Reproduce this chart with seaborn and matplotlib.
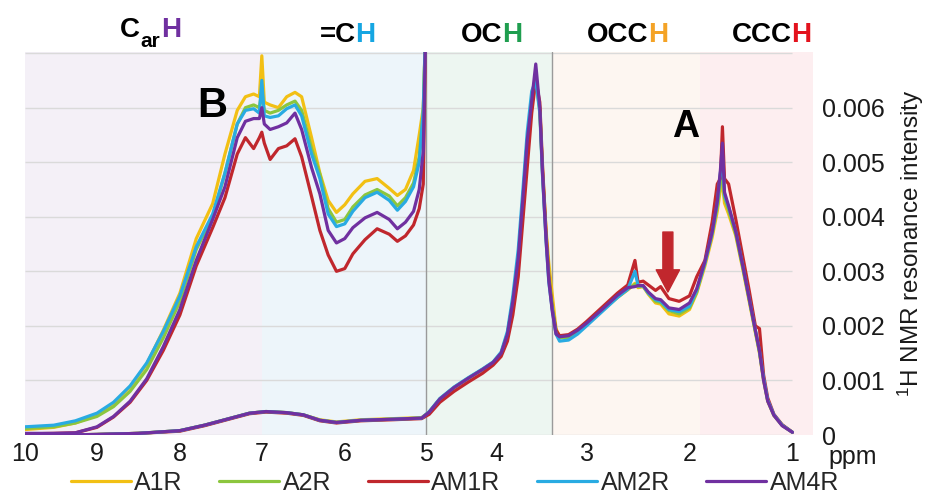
import numpy as np
import pandas as pd
import matplotlib
matplotlib.use("Agg")
import matplotlib.pyplot as plt
import seaborn as sns

# ---------------- data (intensity values in units of 1e-3) ----------------
samples = ["A1R", "A2R", "AM1R", "AM2R", "AM4R"]
colors = ["#f2c014", "#8cc63e", "#c0272d", "#29abe2", "#7030a0"]

# vertically expanded trace of the 10-5 ppm region
ppm_expanded = [10.0, 9.6, 9.3, 9.0, 8.8, 8.6, 8.4, 8.2, 8.0, 7.8, 7.6, 7.45, 7.3, 7.2,
                7.1, 7.03, 7.0, 6.97, 6.9, 6.8, 6.7, 6.6, 6.52, 6.4, 6.3, 6.2, 6.1, 6.0,
                5.9, 5.75, 5.6, 5.45, 5.35, 5.25, 5.15, 5.08, 5.03, 5.0, 4.97]
a1r_expanded = [0.10, 0.14, 0.22, 0.37, 0.58, 0.88, 1.30, 1.92, 2.60, 3.60, 4.24, 5.15, 5.95, 6.20,
                6.25, 6.20, 6.95, 6.10, 6.05, 6.00, 6.20, 6.28, 6.20, 5.45, 4.80, 4.30, 4.08, 4.22,
                4.42, 4.65, 4.70, 4.52, 4.39, 4.50, 4.85, 5.50, 6.00, 7.50, 8.50]
a2r_expanded = [0.12, 0.15, 0.22, 0.34, 0.52, 0.80, 1.20, 1.78, 2.45, 3.40, 4.00, 4.80, 5.70, 6.00,
                6.05, 6.00, 6.30, 5.95, 5.90, 5.95, 6.05, 6.12, 5.95, 5.25, 4.78, 4.15, 3.90, 3.95,
                4.18, 4.40, 4.50, 4.38, 4.20, 4.35, 4.62, 5.10, 5.95, 7.50, 8.50]
am1r_expanded = [0.02, 0.03, 0.04, 0.14, 0.33, 0.60, 1.00, 1.55, 2.20, 3.10, 3.80, 4.35, 5.15, 5.45,
                 5.25, 5.45, 5.55, 5.35, 5.05, 5.25, 5.30, 5.43, 5.10, 4.37, 3.75, 3.30, 3.00, 3.05,
                 3.32, 3.58, 3.78, 3.68, 3.55, 3.65, 3.85, 4.15, 4.60, 7.50, 8.50]
am2r_expanded = [0.15, 0.18, 0.26, 0.40, 0.60, 0.90, 1.32, 1.90, 2.55, 3.45, 4.05, 4.80, 5.70, 5.95,
                 5.98, 5.90, 6.50, 5.85, 5.82, 5.85, 5.98, 6.05, 5.85, 5.15, 4.70, 4.05, 3.82, 3.87,
                 4.10, 4.35, 4.45, 4.30, 4.12, 4.28, 4.55, 5.00, 5.95, 7.50, 8.50]
am4r_expanded = [0.03, 0.03, 0.04, 0.15, 0.34, 0.62, 1.03, 1.62, 2.30, 3.20, 3.95, 4.55, 5.45, 5.75,
                 5.80, 5.80, 6.00, 5.70, 5.60, 5.65, 5.72, 5.90, 5.60, 4.90, 4.42, 3.75, 3.52, 3.60,
                 3.80, 3.98, 4.08, 3.95, 3.78, 3.90, 4.10, 4.50, 5.20, 7.50, 8.50]

# full spectrum at normal scale
ppm_main = [10.0, 9.5, 9.0, 8.5, 8.0, 7.7, 7.4, 7.15, 6.95, 6.7, 6.5, 6.3, 6.1, 5.8, 5.4, 5.05,
            4.95, 4.8, 4.6, 4.4, 4.2, 4.05, 3.95, 3.88, 3.82, 3.76, 3.71, 3.66, 3.61, 3.565,
            3.52, 3.49, 3.45, 3.42, 3.38, 3.34, 3.3, 3.2, 3.1, 3.0, 2.85, 2.7, 2.6, 2.53, 2.5,
            2.45, 2.4, 2.33, 2.28, 2.2, 2.1, 2.0, 1.93, 1.85, 1.78, 1.73, 1.7, 1.68, 1.66, 1.62,
            1.55, 1.48, 1.42, 1.36, 1.32, 1.28, 1.24, 1.18, 1.1, 1.0]
a1r_main = [0.00, 0.00, 0.01, 0.03, 0.08, 0.18, 0.30, 0.40, 0.43, 0.41, 0.37, 0.28, 0.24, 0.28, 0.30, 0.32,
            0.42, 0.66, 0.87, 1.04, 1.20, 1.33, 1.50, 1.85, 2.45, 3.20, 4.25, 5.35, 6.05, 6.50,
            5.95, 4.85, 3.75, 3.15, 2.55, 1.95, 1.80, 1.81, 1.90, 2.03, 2.28, 2.52, 2.66, 2.78, 2.70,
            2.72, 2.58, 2.42, 2.40, 2.22, 2.18, 2.30, 2.60, 3.10, 3.62, 4.10, 4.50, 4.65, 4.25, 4.05,
            3.65, 3.02, 2.45, 1.88, 1.50, 1.00, 0.62, 0.36, 0.18, 0.05]
a2r_main = [0.00, 0.00, 0.01, 0.03, 0.08, 0.18, 0.30, 0.40, 0.43, 0.41, 0.37, 0.27, 0.23, 0.27, 0.29, 0.31,
            0.42, 0.66, 0.87, 1.04, 1.20, 1.33, 1.50, 1.85, 2.45, 3.22, 4.28, 5.38, 6.10, 6.60,
            5.98, 4.82, 3.62, 2.95, 2.35, 1.90, 1.78, 1.79, 1.89, 2.03, 2.28, 2.53, 2.67, 2.76, 2.72,
            2.73, 2.60, 2.45, 2.43, 2.28, 2.22, 2.33, 2.62, 3.15, 3.68, 4.18, 4.62, 4.85, 4.35, 4.12,
            3.68, 3.05, 2.48, 1.90, 1.52, 1.02, 0.63, 0.36, 0.18, 0.05]
am1r_main = [0.00, 0.00, 0.01, 0.03, 0.07, 0.17, 0.29, 0.39, 0.42, 0.40, 0.36, 0.26, 0.22, 0.26, 0.28, 0.30,
             0.38, 0.60, 0.80, 0.97, 1.13, 1.28, 1.44, 1.72, 2.20, 2.90, 3.90, 4.90, 5.90, 6.50,
             6.10, 4.95, 3.70, 2.90, 2.30, 1.92, 1.82, 1.84, 1.94, 2.08, 2.34, 2.60, 2.75, 3.20, 2.80,
             2.82, 2.75, 2.65, 2.72, 2.50, 2.45, 2.55, 2.90, 3.20, 3.90, 4.60, 4.70, 5.65, 4.70, 4.60,
             3.95, 3.25, 2.65, 2.00, 1.95, 1.10, 0.68, 0.38, 0.19, 0.05]
am2r_main = [0.00, 0.00, 0.01, 0.03, 0.08, 0.18, 0.30, 0.40, 0.43, 0.41, 0.37, 0.27, 0.23, 0.27, 0.29, 0.31,
             0.43, 0.67, 0.88, 1.05, 1.21, 1.34, 1.52, 1.90, 2.55, 3.40, 4.45, 5.55, 6.30, 6.50,
             5.90, 4.75, 3.55, 2.80, 2.28, 1.85, 1.72, 1.74, 1.85, 2.00, 2.26, 2.52, 2.67, 3.00, 2.74,
             2.73, 2.60, 2.48, 2.45, 2.30, 2.26, 2.36, 2.65, 3.15, 3.70, 4.25, 4.80, 5.10, 4.40, 4.18,
             3.72, 3.08, 2.50, 1.92, 1.54, 1.04, 0.64, 0.37, 0.18, 0.05]
am4r_main = [0.00, 0.00, 0.01, 0.03, 0.08, 0.18, 0.30, 0.40, 0.43, 0.41, 0.37, 0.27, 0.23, 0.27, 0.29, 0.31,
             0.42, 0.66, 0.87, 1.04, 1.20, 1.33, 1.50, 1.85, 2.45, 3.25, 4.30, 5.40, 6.13, 6.80,
             6.00, 4.80, 3.56, 2.83, 2.25, 1.85, 1.80, 1.82, 1.92, 2.05, 2.30, 2.56, 2.70, 2.72, 2.74,
             2.74, 2.62, 2.50, 2.48, 2.33, 2.30, 2.42, 2.68, 3.18, 3.72, 4.28, 4.85, 5.35, 4.45, 4.20,
             3.72, 3.08, 2.50, 1.92, 1.54, 1.00, 0.62, 0.36, 0.17, 0.05]

expanded_series = [a1r_expanded, a2r_expanded, am1r_expanded, am2r_expanded, am4r_expanded]
main_series = [a1r_main, a2r_main, am1r_main, am2r_main, am4r_main]

# regions and labels
region_bounds = [10.0, 7.0, 5.0, 3.38, 1.9, 0.8]
region_colors = ["#f4f0f7", "#edf5fa", "#edf6f1", "#fdf6f1", "#fdeef0"]
divider_ppm = [5.0, 3.38]
heading_prefixes = ["=C", "OC", "OCC", "CCC"]
heading_h_colors = ["#16a6e2", "#1f9e4f", "#f4a326", "#e3121d"]
x_tick_values = [10, 9, 8, 7, 6, 5, 4, 3, 2, 1]
x_tick_labels = ["10", "9", "8", "7", "6", "5", "4", "3", "2", "1"]
y_tick_values = [0, 0.001, 0.002, 0.003, 0.004, 0.005, 0.006]
y_tick_labels = ["0", "0.001", "0.002", "0.003", "0.004", "0.005", "0.006"]
grid_levels = [0.0, 0.001, 0.002, 0.003, 0.004, 0.005, 0.006, 0.007]

# ---------------- frame ----------------
sns.set_theme(style="white")
plt.rcParams["font.family"] = ["Liberation Sans", "DejaVu Sans"]
plt.rcParams["mathtext.fontset"] = "custom"
plt.rcParams["mathtext.rm"] = "Liberation Sans"
plt.rcParams["mathtext.it"] = "Liberation Sans:italic"
plt.rcParams["mathtext.bf"] = "Liberation Sans:bold"

W, H = 928, 498
fig = plt.figure(figsize=(W / 100, H / 100), dpi=100)
ax = fig.add_axes([25 / W, 1 - 435 / H, 788 / W, 383 / H])

# piecewise-linear ppm axis (the original axis is not uniform)
knot_ppm = np.array([0, 1, 2, 3, 4, 5, 6, 7, 8, 9, 10, 11], dtype=float)
knot_pos = np.array([-896, -793, -690, -587, -497, -426, -345, -262, -180, -97, -25, 47], dtype=float)


def fwd(p):
    return np.interp(p, knot_ppm, knot_pos)


def inv(u):
    return np.interp(u, knot_pos, knot_ppm)


ax.set_xscale("function", functions=(fwd, inv))

for lo, hi, c in zip(region_bounds[:-1], region_bounds[1:], region_colors):
    ax.axvspan(hi, lo, color=c, lw=0, zorder=0)
ax.hlines(grid_levels, 10.0, 1.0, color="#dadada", lw=1.0, zorder=1)
for d in divider_ppm:
    ax.axvline(d, color="#9a9a9a", lw=1.0, zorder=1)

# ---------------- data lines ----------------
frames = []
for name, ev, mv in zip(samples, expanded_series, main_series):
    frames.append(pd.DataFrame({"ppm": ppm_expanded, "intensity": np.array(ev) * 1e-3,
                                "sample": name, "segment": "expanded"}))
    frames.append(pd.DataFrame({"ppm": ppm_main, "intensity": np.array(mv) * 1e-3,
                                "sample": name, "segment": "main"}))
df = pd.concat(frames, ignore_index=True)

sns.lineplot(data=df, x="ppm", y="intensity", hue="sample", hue_order=samples,
             units="segment", estimator=None, sort=False,
             palette=dict(zip(samples, colors)), linewidth=2.3, ax=ax, zorder=3)

ax.set_xlim(10.0, 0.8)
ax.set_ylim(0, 0.00702)
for s in ax.spines.values():
    s.set_visible(False)

ax.set_xticks(x_tick_values)
ax.set_xticklabels(x_tick_labels)
ax.xaxis.set_minor_locator(matplotlib.ticker.NullLocator())
ax.tick_params(axis="x", length=0, pad=5, labelsize=18, colors="#1a1a1a")
ax.yaxis.tick_right()
ax.set_yticks(y_tick_values)
ax.set_yticklabels(y_tick_labels)
ax.tick_params(axis="y", length=0, pad=6.5, labelsize=18, colors="#1a1a1a")
ax.set_xlabel("")
ax.yaxis.set_label_position("right")
ax.set_ylabel("$^{1}$H NMR resonance intensity", fontsize=17.5, labelpad=8, color="#1a1a1a")
ax.grid(False)


def fx(x):
    return x / W


def fy(y):
    return 1 - y / H


fig.text(fx(853), fy(464), "ppm", fontsize=18, ha="center", va="baseline", color="#1a1a1a")

# region headings: black prefix followed by a coloured H
head_kw = dict(fontsize=20, fontweight="bold")
c_txt = fig.text(fx(120), fy(37), "C", ha="left", va="baseline", color="black", **head_kw)
ar_txt = ax.annotate("ar", xy=(1, 0), xycoords=c_txt, xytext=(0.5, -5.5), textcoords="offset points",
                     ha="left", va="bottom", color="black", fontsize=15, fontweight="bold",
                     annotation_clip=False)
ax.annotate("H", xy=(1, 0), xycoords=(ar_txt, c_txt), xytext=(0.5, 0), textcoords="offset points",
            ha="left", va="bottom", color="#7030a0", annotation_clip=False, **head_kw)
for txt, xl, col in zip(heading_prefixes, [320, 461, 587, 732], heading_h_colors):
    t = fig.text(fx(xl), fy(42), txt, ha="left", va="baseline", color="black", **head_kw)
    ax.annotate("H", xy=(1, 0), xycoords=t, xytext=(-0.5, 0), textcoords="offset points",
                ha="left", va="bottom", color=col, annotation_clip=False, **head_kw)

# panel letters and arrow
fig.text(fx(212), fy(117), "B", fontsize=30, fontweight="bold", ha="center", va="baseline", color="black")
fig.text(fx(686), fy(137), "A", fontsize=27, fontweight="bold", ha="center", va="baseline", color="black")
ax.annotate("", xy=(2.21, 0.00262), xytext=(2.21, 0.00372),
            arrowprops=dict(arrowstyle="simple,head_length=1.0,head_width=1.05,tail_width=0.45",
                            color="#c1272d", shrinkA=0, shrinkB=0, mutation_scale=16),
            zorder=5)

sns.move_legend(ax, "center", bbox_to_anchor=(0.5457, -0.125), ncol=5, frameon=False, title=None,
                fontsize=18, handlelength=2.4, handletextpad=0.15, columnspacing=1.45)

fig.savefig("out.png", dpi=100)
